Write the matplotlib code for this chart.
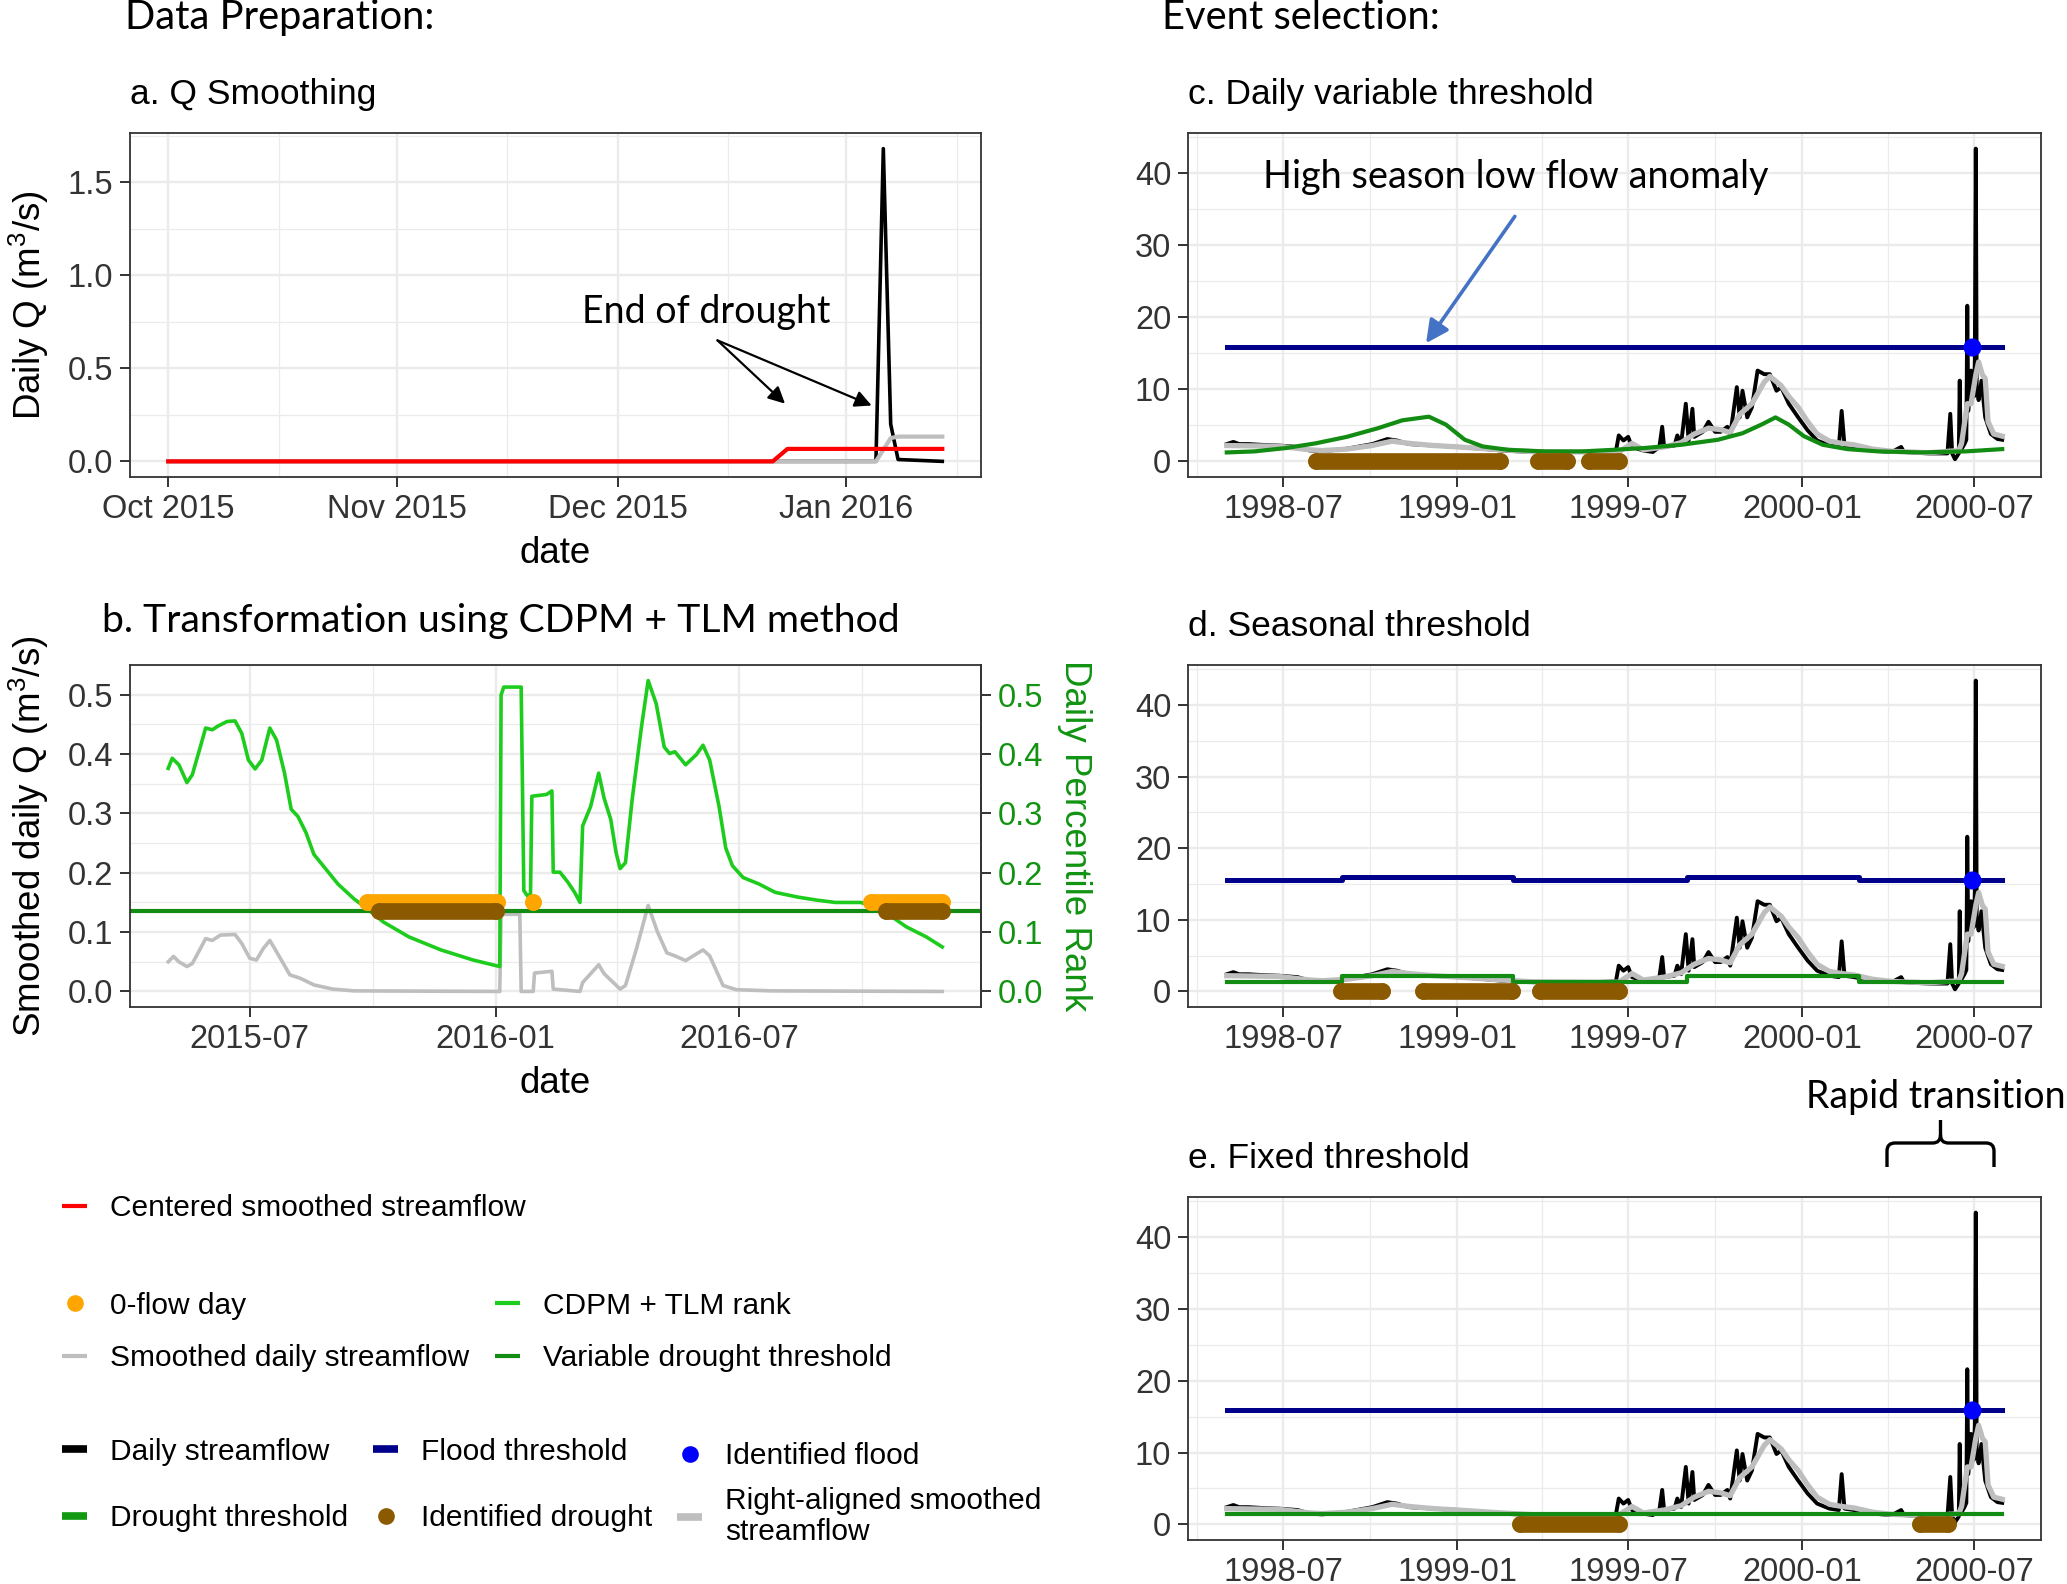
import matplotlib
matplotlib.use("Agg")
import matplotlib.pyplot as plt
import matplotlib.dates as mdates
from matplotlib.ticker import MultipleLocator, FormatStrFormatter
from matplotlib.lines import Line2D
from matplotlib.path import Path
from matplotlib.patches import PathPatch
import pandas as pd

plt.rcParams["font.family"] = ["Liberation Sans", "DejaVu Sans"]
plt.rcParams["mathtext.default"] = "regular"

# ---- a. Q smoothing (Oct 2015 - Jan 2016) ----
a_daily_dates = ["2015-10-01", "2016-01-05", "2016-01-06", "2016-01-07", "2016-01-08", "2016-01-14"]
a_daily_q = [0.0, 0.0, 1.68, 0.20, 0.01, 0.0]
a_right_dates = ["2015-10-01", "2016-01-05", "2016-01-07", "2016-01-08", "2016-01-14"]
a_right_q = [0.0, 0.0, 0.125, 0.133, 0.133]
a_center_dates = ["2015-10-01", "2015-12-22", "2015-12-24", "2016-01-14"]
a_center_q = [0.0, 0.0, 0.067, 0.067]

# ---- b. CDPM + TLM transformation ----
b_rank_dates = ["2015-05-01", "2015-05-04", "2015-05-09", "2015-05-15", "2015-05-19", "2015-05-25",
                "2015-05-29", "2015-06-03", "2015-06-07", "2015-06-14", "2015-06-20", "2015-06-25",
                "2015-06-30", "2015-07-05", "2015-07-10", "2015-07-16", "2015-07-21", "2015-07-27",
                "2015-08-01", "2015-08-06", "2015-08-12", "2015-08-18", "2015-08-27", "2015-09-05",
                "2015-09-17", "2015-09-27", "2015-10-09", "2015-10-28", "2015-11-21", "2015-12-15",
                "2016-01-04", "2016-01-05", "2016-01-07", "2016-01-20", "2016-01-22", "2016-01-25",
                "2016-01-27", "2016-01-28", "2016-02-08", "2016-02-12", "2016-02-13", "2016-02-18",
                "2016-02-24", "2016-02-29", "2016-03-04", "2016-03-06", "2016-03-12", "2016-03-18",
                "2016-03-22", "2016-03-27", "2016-03-31", "2016-04-03", "2016-04-07", "2016-04-12",
                "2016-04-19", "2016-04-24", "2016-04-30", "2016-05-06", "2016-05-10", "2016-05-14",
                "2016-05-22", "2016-05-30", "2016-06-04", "2016-06-09", "2016-06-16", "2016-06-21",
                "2016-06-26", "2016-07-04", "2016-07-16", "2016-07-28", "2016-08-14", "2016-08-28",
                "2016-09-11", "2016-09-30", "2016-10-15", "2016-11-03", "2016-11-18", "2016-11-30"]
b_rank = [0.376, 0.393, 0.382, 0.352, 0.365, 0.412,
          0.444, 0.441, 0.447, 0.455, 0.456, 0.435,
          0.390, 0.375, 0.390, 0.444, 0.424, 0.368,
          0.307, 0.295, 0.268, 0.231, 0.206, 0.181,
          0.156, 0.139, 0.117, 0.092, 0.070, 0.053,
          0.042, 0.500, 0.513, 0.513, 0.170, 0.160,
          0.165, 0.329, 0.332, 0.338, 0.201, 0.201,
          0.184, 0.167, 0.150, 0.279, 0.312, 0.368,
          0.326, 0.290, 0.234, 0.207, 0.217, 0.323,
          0.446, 0.524, 0.485, 0.412, 0.401, 0.404,
          0.382, 0.399, 0.415, 0.390, 0.312, 0.242,
          0.212, 0.192, 0.181, 0.167, 0.159, 0.154,
          0.150, 0.150, 0.139, 0.109, 0.092, 0.075]
b_smooth_dates = ["2015-05-01", "2015-05-05", "2015-05-09", "2015-05-15", "2015-05-19", "2015-05-25",
                  "2015-05-29", "2015-06-03", "2015-06-09", "2015-06-20", "2015-06-25", "2015-07-01",
                  "2015-07-06", "2015-07-11", "2015-07-16", "2015-07-21", "2015-07-31", "2015-08-08",
                  "2015-08-18", "2015-09-01", "2015-09-17", "2016-01-04", "2016-01-05", "2016-01-19",
                  "2016-01-20", "2016-01-29", "2016-01-30", "2016-02-12", "2016-02-13", "2016-03-04",
                  "2016-03-06", "2016-03-18", "2016-03-22", "2016-04-03", "2016-04-07", "2016-04-15",
                  "2016-04-24", "2016-05-01", "2016-05-08", "2016-05-14", "2016-05-22", "2016-06-04",
                  "2016-06-09", "2016-06-19", "2016-06-29", "2016-07-25", "2016-11-30"]
b_smooth = [0.050, 0.059, 0.050, 0.042, 0.047, 0.072,
            0.089, 0.086, 0.095, 0.096, 0.081, 0.056,
            0.053, 0.072, 0.086, 0.067, 0.028, 0.022,
            0.011, 0.004, 0.001, 0.0, 0.130, 0.130,
            0.0, 0.0, 0.031, 0.034, 0.004, 0.0,
            0.015, 0.045, 0.030, 0.004, 0.010, 0.070,
            0.145, 0.100, 0.065, 0.060, 0.052, 0.070,
            0.060, 0.010, 0.003, 0.001, 0.0]
b_threshold = 0.135
b_zero_level = 0.150
b_zero_start = ["2015-09-27", "2016-01-29", "2016-10-08"]
b_zero_end = ["2016-01-02", "2016-01-29", "2016-11-30"]
b_drought_start = ["2015-10-06", "2016-10-19"]
b_drought_end = ["2016-01-01", "2016-11-30"]

# ---- c, d, e. event selection (1998-2000) ----
q_dates = ["1998-05-02", "1998-05-09", "1998-05-15", "1998-05-25", "1998-06-07", "1998-06-26",
           "1998-07-16", "1998-07-29", "1998-08-11", "1998-09-06", "1998-10-03", "1998-10-19",
           "1998-10-29", "1998-11-11", "1998-12-07", "1999-01-02", "1999-01-28", "1999-02-17",
           "1999-03-22", "1999-04-30", "1999-05-26", "1999-06-18", "1999-06-21", "1999-06-26",
           "1999-07-01", "1999-07-05", "1999-07-17", "1999-07-27", "1999-08-03", "1999-08-06",
           "1999-08-08", "1999-08-19", "1999-08-22", "1999-08-26", "1999-08-31", "1999-09-03",
           "1999-09-07", "1999-09-09", "1999-09-18", "1999-09-24", "1999-10-01", "1999-10-07",
           "1999-10-14", "1999-10-17", "1999-10-24", "1999-10-27", "1999-10-30", "1999-11-04",
           "1999-11-09", "1999-11-15", "1999-11-22", "1999-11-28", "1999-12-05", "1999-12-10",
           "1999-12-18", "1999-12-28", "2000-01-07", "2000-01-17", "2000-01-30", "2000-02-09",
           "2000-02-12", "2000-02-15", "2000-02-25", "2000-03-16", "2000-04-05", "2000-04-15",
           "2000-04-18", "2000-05-14", "2000-06-03", "2000-06-06", "2000-06-08", "2000-06-11",
           "2000-06-15", "2000-06-16", "2000-06-17", "2000-06-21", "2000-06-23", "2000-06-24",
           "2000-06-25", "2000-06-28", "2000-07-01", "2000-07-02", "2000-07-03", "2000-07-04",
           "2000-07-06", "2000-07-09", "2000-07-13", "2000-07-19", "2000-07-26", "2000-07-31"]
q_daily = [2.4, 2.7, 2.4, 2.4, 2.3, 2.2,
           2.0, 1.5, 1.4, 1.75, 2.4, 3.1,
           2.9, 2.4, 2.2, 2.0, 1.75, 1.5,
           1.3, 1.3, 1.3, 1.4, 3.6, 2.9,
           3.4, 2.0, 1.5, 1.3, 2.0, 4.8,
           2.0, 2.2, 3.6, 2.4, 8.0, 2.9,
           7.3, 3.4, 4.1, 5.5, 4.1, 4.1,
           4.8, 3.6, 10.3, 6.1, 9.8, 6.1,
           7.5, 12.6, 12.1, 12.1, 9.8, 10.3,
           8.0, 6.1, 4.3, 2.9, 2.2, 2.0,
           7.0, 2.2, 2.0, 1.5, 1.3, 2.0,
           1.3, 1.1, 1.1, 6.6, 1.1, 0.3,
           1.1, 11.2, 1.5, 2.4, 3.0, 21.6,
           7.0, 12.6, 9.0, 14.0, 43.4, 10.0,
           8.5, 11.2, 6.1, 3.8, 3.1, 3.0]
q_right_dates = ["1998-05-02", "1998-06-26", "1998-07-29", "1998-08-11", "1998-09-06", "1998-10-03",
                 "1998-10-24", "1998-11-11", "1998-12-07", "1999-01-02", "1999-02-17", "1999-03-22",
                 "1999-05-26", "1999-06-21", "1999-07-05", "1999-07-17", "1999-08-08", "1999-08-26",
                 "1999-09-09", "1999-09-24", "1999-10-07", "1999-10-17", "1999-10-27", "1999-11-09",
                 "1999-11-22", "1999-11-28", "1999-12-10", "1999-12-18", "1999-12-28", "2000-01-07",
                 "2000-01-17", "2000-01-30", "2000-02-12", "2000-02-25", "2000-03-16", "2000-04-05",
                 "2000-05-14", "2000-06-15", "2000-06-18", "2000-06-24", "2000-06-28", "2000-07-03",
                 "2000-07-06", "2000-07-10", "2000-07-13", "2000-07-16", "2000-07-22", "2000-07-31"]
q_right = [2.2, 2.1, 1.6, 1.5, 1.7, 2.2,
           2.8, 2.5, 2.2, 2.0, 1.6, 1.35,
           1.3, 1.3, 2.5, 1.6, 2.0, 2.6,
           3.8, 4.6, 4.4, 4.0, 6.5, 8.0,
           11.0, 11.8, 10.5, 9.0, 7.5, 5.5,
           3.8, 2.8, 2.5, 2.3, 1.7, 1.4,
           1.2, 1.5, 2.5, 8.0, 8.0, 12.0,
           13.8, 12.0, 11.5, 5.5, 3.8, 3.5]

c_thr_dates = ["1998-05-02", "1998-05-31", "1998-07-03", "1998-08-04", "1998-09-06", "1998-10-09",
               "1998-11-04", "1998-12-02", "1998-12-20", "1999-01-09", "1999-01-28", "1999-02-24",
               "1999-04-04", "1999-05-13", "1999-06-15", "1999-07-17", "1999-08-26", "1999-10-04",
               "1999-10-30", "1999-11-19", "1999-12-04", "1999-12-18", "2000-01-03", "2000-01-23",
               "2000-02-18", "2000-03-22", "2000-05-07", "2000-06-22", "2000-07-31"]
c_drought_thr = [1.24, 1.38, 1.84, 2.5, 3.4, 4.6,
                 5.7, 6.2, 5.1, 3.0, 2.07, 1.6,
                 1.38, 1.38, 1.6, 1.84, 2.3, 3.0,
                 3.9, 5.1, 6.1, 5.1, 3.5, 2.3,
                 1.7, 1.38, 1.24, 1.38, 1.7]
c_flood_thr = 15.9
c_drought_start = ["1998-08-04", "1999-03-28", "1999-05-20"]
c_drought_end = ["1999-02-15", "1999-04-27", "1999-06-21"]

season_edges = ["1998-05-02", "1998-09-01", "1999-03-01", "1999-09-01", "2000-03-01", "2000-07-31"]
d_drought_thr = [1.25, 2.1, 1.25, 2.1, 1.25, 1.25]
d_flood_thr = [15.5, 16.0, 15.5, 16.0, 15.5, 15.5]
d_drought_start = ["1998-08-31", "1998-11-26", "1999-03-30"]
d_drought_end = ["1998-10-13", "1999-02-28", "1999-06-21"]

e_drought_thr = 1.5
e_flood_thr = 15.9
e_drought_start = ["1999-03-08", "2000-05-05"]
e_drought_end = ["1999-06-21", "2000-06-04"]

flood_date = "2000-06-29"

# colours
RED, BLACK, GREY = "#FF0000", "#000000", "#BEBEBE"
ORANGE, BROWN = "#FFA500", "#8B5A00"
RANK_GREEN, THR_GREEN, AX_GREEN = "#1ECC1E", "#128C12", "#129312"
NAVY, BLUE, ARROW_BLUE = "#00008B", "#0000FF", "#4472C4"

W, H, DPI = 2067, 1584, 100
fig = plt.figure(figsize=(W / DPI, H / DPI), dpi=DPI)

TICK_SIZE = 23.5
LABEL_SIZE = 26.5
CAL = ["Lato", "DejaVu Sans"]


def add_ax(left, top, right, bottom):
    return fig.add_axes([left / W, 1 - bottom / H, (right - left) / W, (bottom - top) / H])


def to_dt(lst):
    return pd.to_datetime(lst)


def style(ax, fmt, major, minor, ystep, yfmt=None):
    ax.set_axisbelow(True)
    for s in ax.spines.values():
        s.set_color("#333333")
        s.set_linewidth(1.3)
    ax.xaxis.set_major_locator(major)
    ax.xaxis.set_major_formatter(mdates.DateFormatter(fmt))
    ax.xaxis.set_minor_locator(minor)
    ax.yaxis.set_major_locator(MultipleLocator(ystep))
    ax.yaxis.set_minor_locator(MultipleLocator(ystep / 2))
    if yfmt:
        ax.yaxis.set_major_formatter(FormatStrFormatter(yfmt))
    ax.grid(which="major", color="#EBEBEB", lw=1.7)
    ax.grid(which="minor", color="#EBEBEB", lw=0.9)
    ax.tick_params(which="major", length=7, width=1.4, color="#333333",
                   labelsize=TICK_SIZE, labelcolor="#333333", pad=5)
    ax.tick_params(which="minor", length=0)


def events(ax, starts, ends, y, color, lw=12, z=5):
    for s, e in zip(to_dt(starts), to_dt(ends)):
        ax.plot([s, e], [y, y], color=color, lw=lw, solid_capstyle="round",
                marker="o", ms=lw, mew=0, zorder=z)


TITLE_KW = dict(loc="left", fontsize=25.5, pad=21)

# ---------- panel a ----------
ax_a = add_ax(129.5, 133, 981, 477)
ax_a.plot(to_dt(a_daily_dates), a_daily_q, color=BLACK, lw=2.6)
ax_a.plot(to_dt(a_right_dates), a_right_q, color=GREY, lw=3.0)
ax_a.plot(to_dt(a_center_dates), a_center_q, color=RED, lw=3.0)
style(ax_a, "%b %Y", mdates.MonthLocator(), mdates.DayLocator(bymonthday=16), 0.5, "%.1f")
ax_a.set_title("a. Q Smoothing", **TITLE_KW)
ax_a.set_xlabel("date", fontsize=LABEL_SIZE, labelpad=8)
ax_a.set_ylabel("Daily Q (m$^3$/s)", fontsize=LABEL_SIZE, labelpad=12)
ax_a.text(pd.Timestamp("2015-12-13"), 0.80, "End of drought", family=CAL, fontsize=27,
          ha="center", va="center")
for tip in [(pd.Timestamp("2015-12-23 16:00"), 0.31), (pd.Timestamp("2016-01-04 10:00"), 0.30)]:
    ax_a.annotate("", xy=tip, xytext=(pd.Timestamp("2015-12-14 12:00"), 0.65),
                  arrowprops=dict(arrowstyle="-|>", color=BLACK, lw=1.6,
                                  mutation_scale=25, shrinkA=0, shrinkB=0))

# ---------- panel b ----------
ax_b = add_ax(129.5, 665, 981, 1007)
ax_b.plot(to_dt(b_smooth_dates), b_smooth, color=GREY, lw=2.6)
ax_b.plot(to_dt(b_rank_dates), b_rank, color=RANK_GREEN, lw=2.6)
ax_b.axhline(b_threshold, color=THR_GREEN, lw=3.0)
events(ax_b, b_zero_start, b_zero_end, b_zero_level, ORANGE)
events(ax_b, b_drought_start, b_drought_end, b_threshold, BROWN, z=6)
style(ax_b, "%Y-%m", mdates.MonthLocator(bymonth=[1, 7]), mdates.MonthLocator(bymonth=[4, 10]),
      0.1, "%.1f")
ax_b.set_xlabel("date", fontsize=LABEL_SIZE, labelpad=8)
ax_b.set_ylabel("Smoothed daily Q (m$^3$/s)", fontsize=LABEL_SIZE, labelpad=12)
sec = ax_b.secondary_yaxis("right")
sec.yaxis.set_major_locator(MultipleLocator(0.1))
sec.yaxis.set_major_formatter(FormatStrFormatter("%.1f"))
sec.tick_params(length=7, width=1.4, color="#333333", labelsize=TICK_SIZE,
                labelcolor=AX_GREEN, pad=5)
sec.spines["right"].set_color("#333333")
sec.spines["right"].set_linewidth(1.3)
sec.set_ylabel("Daily Percentile Rank", fontsize=LABEL_SIZE, color=AX_GREEN, rotation=270,
               va="bottom", labelpad=10)

# ---------- panels c, d, e share the streamflow ----------
flood_ts = pd.Timestamp(flood_date)
ax_c = add_ax(1188, 133, 2041, 477)
ax_d = add_ax(1188, 665, 2041, 1007)
ax_e = add_ax(1188, 1197, 2041, 1540)
for ax in (ax_c, ax_d, ax_e):
    ax.plot(to_dt(q_dates), q_daily, color=BLACK, lw=2.8, zorder=2)
    ax.plot(to_dt(q_right_dates), q_right, color=GREY, lw=3.8, zorder=2.1)
    style(ax, "%Y-%m", mdates.MonthLocator(bymonth=[1, 7]),
          mdates.MonthLocator(bymonth=[4, 10]), 10)

# c. daily variable threshold
ax_c.plot(to_dt(c_thr_dates), c_drought_thr, color=THR_GREEN, lw=3.0, zorder=3)
ax_c.plot(to_dt([season_edges[0], season_edges[-1]]), [c_flood_thr, c_flood_thr],
          color=NAVY, lw=3.6, zorder=3)
events(ax_c, c_drought_start, c_drought_end, 0, BROWN)
ax_c.plot([flood_ts], [c_flood_thr], "o", color=BLUE, ms=13, mew=0, zorder=6)
ax_c.set_title("c. Daily variable threshold", **TITLE_KW)
ax_c.text(pd.Timestamp("1999-03-04"), 39.4, "High season low flow anomaly", family=CAL,
          fontsize=27.3, ha="center", va="center")
ax_c.annotate("", xy=(pd.Timestamp("1998-11-29"), 16.4), xytext=(pd.Timestamp("1999-03-03"), 34.0),
              arrowprops=dict(arrowstyle="-|>", color=ARROW_BLUE, lw=2.6,
                              mutation_scale=34, shrinkA=0, shrinkB=0))

# d. seasonal threshold
ax_d.step(to_dt(season_edges), d_drought_thr, where="post", color=THR_GREEN, lw=3.0, zorder=3)
ax_d.step(to_dt(season_edges), d_flood_thr, where="post", color=NAVY, lw=3.6, zorder=3)
events(ax_d, d_drought_start, d_drought_end, 0, BROWN)
ax_d.plot([flood_ts], [d_flood_thr[4]], "o", color=BLUE, ms=13, mew=0, zorder=6)
ax_d.set_title("d. Seasonal threshold", **TITLE_KW)

# e. fixed threshold
ax_e.plot(to_dt([season_edges[0], season_edges[-1]]), [e_drought_thr, e_drought_thr],
          color=THR_GREEN, lw=3.0, zorder=3)
ax_e.plot(to_dt([season_edges[0], season_edges[-1]]), [e_flood_thr, e_flood_thr],
          color=NAVY, lw=3.6, zorder=3)
events(ax_e, e_drought_start, e_drought_end, 0, BROWN)
ax_e.plot([flood_ts], [e_flood_thr], "o", color=BLUE, ms=13, mew=0, zorder=6)
ax_e.set_title("e. Fixed threshold", **TITLE_KW)

# ---------- free text ----------
fig.text(125 / W, 1 - 29 / H, "Data Preparation:", family=CAL, fontsize=28.7, va="baseline")
fig.text(1162 / W, 1 - 29 / H, "Event selection:", family=CAL, fontsize=28.7, va="baseline")
fig.text(102 / W, 1 - 632 / H, "b. Transformation using CDPM + TLM method", family=CAL,
         fontsize=28.2, va="baseline")
fig.text(2066 / W, 1 - 1108 / H, "Rapid transition", family=CAL, fontsize=27,
         ha="right", va="baseline")

# curly brace over the rapid transition
bx0, bx1, bxm = 1887, 1994, 1940.5
by_leg, by_bar, by_top, r = 1167, 1143, 1120, 8
brace_px = [(bx0, by_leg), (bx0, by_bar + r), (bx0, by_bar), (bx0 + r, by_bar),
            (bxm - r, by_bar), (bxm, by_bar), (bxm, by_bar - r), (bxm, by_top),
            (bxm, by_bar - r), (bxm, by_bar), (bxm + r, by_bar), (bx1 - r, by_bar),
            (bx1, by_bar), (bx1, by_bar + r), (bx1, by_leg)]
codes = [Path.MOVETO, Path.LINETO, Path.CURVE3, Path.CURVE3, Path.LINETO, Path.CURVE3,
         Path.CURVE3, Path.LINETO, Path.MOVETO, Path.CURVE3, Path.CURVE3, Path.LINETO,
         Path.CURVE3, Path.CURVE3, Path.LINETO]
brace = Path([(x / W, 1 - y / H) for x, y in brace_px], codes)
fig.patches.append(PathPatch(brace, transform=fig.transFigure, fill=False,
                             edgecolor=BLACK, lw=2.4, capstyle="butt"))


# ---------- legends ----------
def lline(color, lw):
    return Line2D([], [], color=color, lw=lw, solid_capstyle="butt")


def ldot(color):
    return Line2D([], [], color=color, marker="o", ls="", ms=12, mew=0)


LEG_KW = dict(frameon=False, fontsize=21.5, handlelength=0.85, handletextpad=0.75,
              borderpad=0, borderaxespad=0, loc="center left", bbox_transform=fig.transFigure)


def legend(handles, labels, x, y, spacing=0.82, linespacing=1.0):
    leg = fig.legend(handles, labels, bbox_to_anchor=(x / W, 1 - y / H),
                     labelspacing=spacing, **LEG_KW)
    for t in leg.get_texts():
        t.set_linespacing(linespacing)
    return leg


legend([lline(RED, 3)], ["Centered smoothed streamflow"], 62, 1208)
legend([ldot(ORANGE), lline(GREY, 3)], ["0-flow day", "Smoothed daily streamflow"], 62, 1332)
legend([lline(RANK_GREEN, 3), lline(THR_GREEN, 3)],
       ["CDPM + TLM rank", "Variable drought threshold"], 495, 1332)
legend([lline(BLACK, 5.5), lline("#119A11", 5.5)], ["Daily streamflow", "Drought threshold"],
       62, 1485, 1.3)
legend([lline(NAVY, 5.5), ldot(BROWN)], ["Flood threshold", "Identified drought"], 373, 1485, 1.3)
legend([ldot(BLUE), lline(GREY, 5.5)], ["Identified flood", "Right-aligned smoothed\nstreamflow"],
       677, 1494, 0.55, 1.15)

fig.savefig("out.png", dpi=DPI)
